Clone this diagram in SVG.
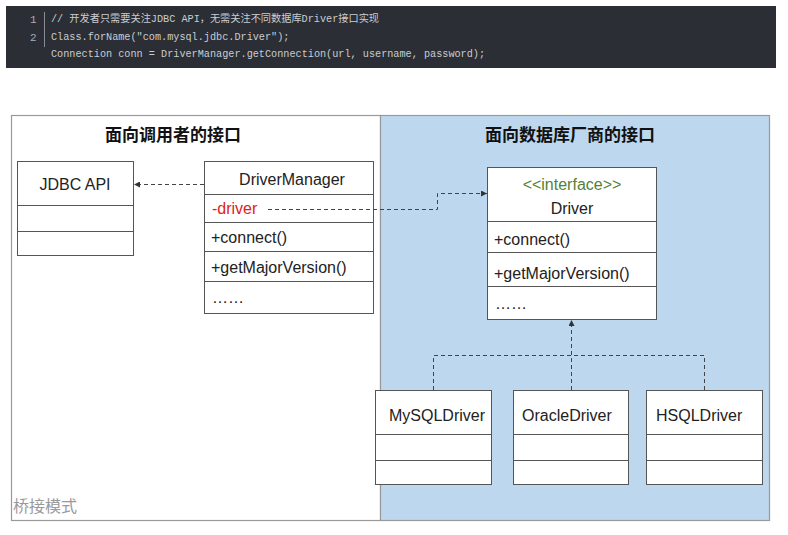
<svg xmlns="http://www.w3.org/2000/svg" width="788" height="535" viewBox="0 0 788 535">
<defs>
<marker id="ah" viewBox="0 0 6 6" refX="6" refY="3" markerWidth="6" markerHeight="6" orient="auto" markerUnits="userSpaceOnUse">
<path d="M0,0 L6,3 L0,6 z" fill="#333"/>
</marker>
</defs>
<style>
.code{font-family:"Liberation Mono","DejaVu Sans Mono","Noto Sans CJK SC",monospace;font-size:10.2px;fill:#c9ccd1}
.ln{font-family:"Liberation Mono","DejaVu Sans Mono",monospace;font-size:11px;fill:#a9adb3}
.box{fill:#fff;stroke:#555;stroke-width:1}
.sep{stroke:#555;stroke-width:1}
.t{font-family:"Liberation Sans","Noto Sans CJK SC",sans-serif;font-size:16px;fill:#222}
.title{font-family:"Noto Sans CJK SC","Liberation Sans",sans-serif;font-size:17px;font-weight:bold;fill:#111}
.dash{fill:none;stroke:#444;stroke-width:1;stroke-dasharray:4,3}
</style>
<rect x="0" y="0" width="788" height="535" fill="#fff"/>
<g id="code">
<rect x="6" y="6" width="770" height="62" fill="#2b2e34"/>
<line x1="44.5" y1="12" x2="44.5" y2="47" stroke="#8a8e94" stroke-width="1"/>
<text class="ln" x="30" y="23">1</text>
<text class="ln" x="30" y="41">2</text>
<text class="code" x="51" y="22">// 开发者只需要关注JDBC API，无需关注不同数据库Driver接口实现</text>
<text class="code" x="51" y="40">Class.forName("com.mysql.jdbc.Driver");</text>
<text class="code" x="51" y="57">Connection conn = DriverManager.getConnection(url, username, password);</text>
</g>
<g id="frame">
<rect x="11.5" y="115.5" width="369" height="405" fill="#fff" stroke="#999" stroke-width="1.2"/>
<rect x="380.5" y="115.5" width="389" height="405" fill="#bdd7ee" stroke="#999" stroke-width="1.2"/>
<text class="title" x="173" y="141" text-anchor="middle">面向调用者的接口</text>
<text class="title" x="570" y="141" text-anchor="middle">面向数据库厂商的接口</text>
<text x="13" y="512" font-family="Noto Sans CJK SC,sans-serif" font-size="16" fill="#999">桥接模式</text>
</g>
<g id="jdbcapi">
<rect class="box" x="17.5" y="161.5" width="116" height="94"/>
<line class="sep" x1="17.5" y1="205.5" x2="133.5" y2="205.5"/>
<line class="sep" x1="17.5" y1="231.5" x2="133.5" y2="231.5"/>
<text class="t" x="75" y="190" text-anchor="middle">JDBC API</text>
</g>
<g id="drivermanager">
<rect class="box" x="204.5" y="161.5" width="169" height="152"/>
<line class="sep" x1="204.5" y1="194.5" x2="373.5" y2="194.5"/>
<line class="sep" x1="204.5" y1="222.5" x2="373.5" y2="222.5"/>
<line class="sep" x1="204.5" y1="251.5" x2="373.5" y2="251.5"/>
<line class="sep" x1="204.5" y1="281.5" x2="373.5" y2="281.5"/>
<text class="t" x="292" y="185" text-anchor="middle">DriverManager</text>
<text class="t" x="212" y="214" fill="#e02020" style="fill:#e02020">-driver</text>
<text class="t" x="211" y="243">+connect()</text>
<text class="t" x="211" y="273">+getMajorVersion()</text>
<text class="t" x="212" y="303">……</text>
</g>
<g id="driver">
<rect class="box" x="487.5" y="167.5" width="169" height="152"/>
<line class="sep" x1="487.5" y1="221.5" x2="656.5" y2="221.5"/>
<line class="sep" x1="487.5" y1="252.5" x2="656.5" y2="252.5"/>
<line class="sep" x1="487.5" y1="286.5" x2="656.5" y2="286.5"/>
<text class="t" x="572" y="190" text-anchor="middle" style="fill:#548235">&lt;&lt;interface&gt;&gt;</text>
<text class="t" x="572" y="214" text-anchor="middle">Driver</text>
<text class="t" x="494" y="245">+connect()</text>
<text class="t" x="494" y="279">+getMajorVersion()</text>
<text class="t" x="495" y="309">……</text>
</g>
<g id="mysqldriver">
<rect class="box" x="375.5" y="390.5" width="116" height="94"/>
<line class="sep" x1="375.5" y1="434.5" x2="491.5" y2="434.5"/>
<line class="sep" x1="375.5" y1="460.5" x2="491.5" y2="460.5"/>
<text class="t" x="389" y="421">MySQLDriver</text>
</g>
<g id="oracledriver">
<rect class="box" x="513.5" y="390.5" width="115" height="94"/>
<line class="sep" x1="513.5" y1="434.5" x2="628.5" y2="434.5"/>
<line class="sep" x1="513.5" y1="460.5" x2="628.5" y2="460.5"/>
<text class="t" x="522" y="421">OracleDriver</text>
</g>
<g id="hsqldriver">
<rect class="box" x="646.5" y="390.5" width="116" height="94"/>
<line class="sep" x1="646.5" y1="434.5" x2="762.5" y2="434.5"/>
<line class="sep" x1="646.5" y1="460.5" x2="762.5" y2="460.5"/>
<text class="t" x="656" y="421">HSQLDriver</text>
</g>
<g id="connectors">
<path class="dash" d="M204,184.5 L134,184.5" marker-end="url(#ah)"/>
<path class="dash" d="M268,209.5 L437.5,209.5 L437.5,193.5 L487,193.5" marker-end="url(#ah)"/>
<path class="dash" d="M433.5,390 L433.5,355.5 L704.5,355.5 L704.5,390"/>
<path class="dash" d="M571.5,390 L571.5,320" marker-end="url(#ah)"/>
</g>
</svg>
